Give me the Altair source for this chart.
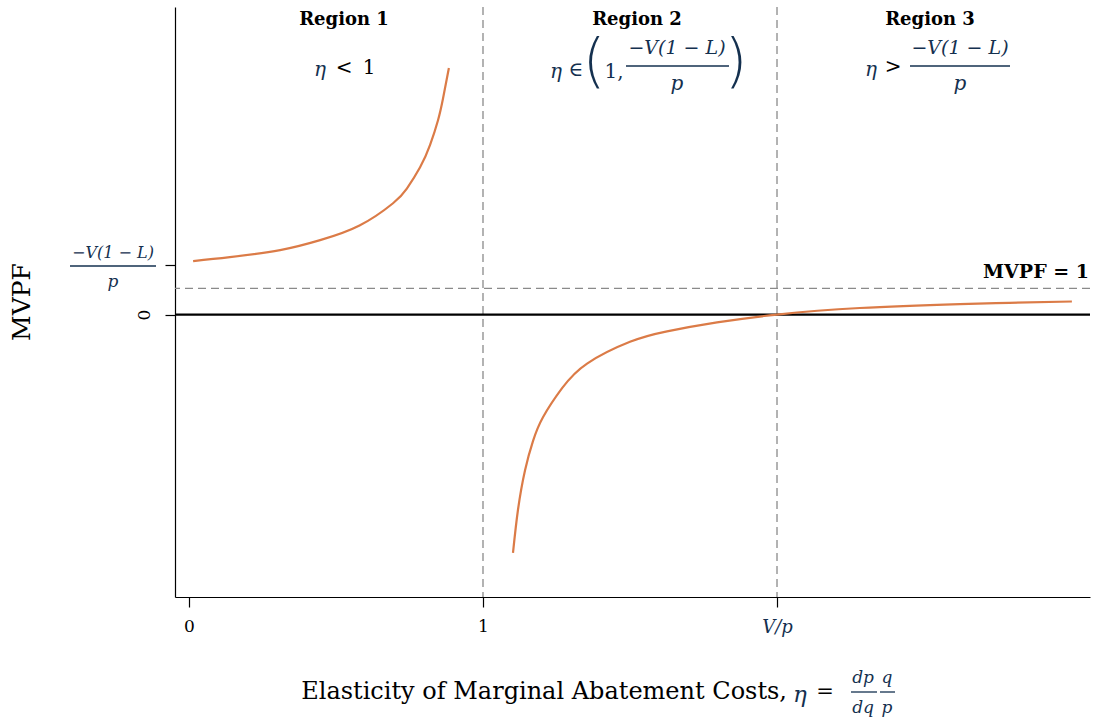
import altair as alt
import pandas as pd

# MVPF as a function of the elasticity of marginal abatement costs (eta)
# Branch below the pole at eta = 1
eta_low = [0.014, 0.139, 0.31, 0.446, 0.58, 0.694, 0.741, 0.786, 0.820, 0.847, 0.864, 0.884]
mvpf_low = [2.04, 2.19, 2.46, 2.84, 3.40, 4.25, 4.81, 5.62, 6.48, 7.42, 8.25, 9.41]
# Branch above the pole (regions 2 and 3)
eta_high = [1.102, 1.119, 1.143, 1.170, 1.204, 1.269, 1.354, 1.500, 1.626, 1.796,
            2.0, 2.282, 2.622, 2.79, 3.003]
mvpf_high = [-9.10, -7.45, -5.94, -4.83, -3.92, -2.81, -1.87, -1.04, -0.64, -0.30,
             0.0, 0.25, 0.40, 0.45, 0.50]

x_ticks = [0, 1, 2]            # 0, 1, V/p
y_ticks = [0, 1.89]            # 0, -V(1-L)/p
region_bounds = [1, 2]         # eta = 1 and eta = V/p
mvpf_one = 1

x_domain = [-0.0476, 3.0646]
y_domain = [-10.78, 11.74]

SERIF = "DejaVu Serif"
MATH = "DejaVu Serif"
NAVY = "#14304f"
ORANGE = "#db7b47"
GREY = "#8a8a8a"

W, H = 915, 590
OX, OY = 175, 7   # plot origin inside the page

curve = pd.DataFrame({
    "eta": eta_low + eta_high,
    "mvpf": mvpf_low + mvpf_high,
    "branch": ["low"] * len(eta_low) + ["high"] * len(eta_high),
})

xs = alt.Scale(domain=x_domain, nice=False, zero=False)
ys = alt.Scale(domain=y_domain, nice=False, zero=False)

x_axis = alt.Axis(
    values=x_ticks, title=None, grid=False,
    labelExpr="datum.value == 2 ? 'V/p' : format(datum.value, 'd')",
    labelFont=SERIF,
    labelFontStyle={"condition": {"test": "datum.value == 2", "value": "italic"}, "value": "normal"},
    labelColor={"condition": {"test": "datum.value == 2", "value": NAVY}, "value": "black"},
    labelFontSize={"condition": {"test": "datum.value == 2", "value": 18}, "value": 17},
    labelPadding=11, tickSize=10, tickColor="black",
    domainColor="black", domainWidth=1.2, tickWidth=1.2,
)
y_axis = alt.Axis(
    values=y_ticks, title=None, grid=False,
    labelExpr="datum.value == 0 ? '0' : ''",
    labelFont=SERIF, labelFontSize=17, labelAngle=270, labelPadding=12,
    labelColor="black", tickSize=10, tickColor="black",
    domainColor="black", domainWidth=1.2, tickWidth=1.2,
)

lines = alt.Chart(curve).mark_line(color=ORANGE, strokeWidth=2.2, interpolate="natural").encode(
    x=alt.X("eta:Q", scale=xs, axis=x_axis),
    y=alt.Y("mvpf:Q", scale=ys, axis=y_axis),
    detail="branch:N",
)

vlines = alt.Chart(pd.DataFrame({"eta": region_bounds})).mark_rule(
    color=GREY, strokeDash=[8, 5], strokeWidth=1.3
).encode(x=alt.X("eta:Q", scale=xs))

hline = alt.Chart(pd.DataFrame({"mvpf": [mvpf_one]})).mark_rule(
    color=GREY, strokeDash=[8, 5], strokeWidth=1.3
).encode(y=alt.Y("mvpf:Q", scale=ys))

zero = alt.Chart(pd.DataFrame({"mvpf": [0]})).mark_rule(
    color="black", strokeWidth=2.4
).encode(y=alt.Y("mvpf:Q", scale=ys))


def txt(text, x, y, size=18, color="black", font=SERIF, style="normal",
        weight="normal", align="center", angle=0):
    """Text placed at page position (x, y)."""
    return alt.Chart(alt.Data(values=[{"t": text}])).mark_text(
        font=font, fontSize=size, color=color, fontStyle=style,
        fontWeight=weight, align=align, baseline="middle", angle=angle,
    ).encode(x=alt.value(x - OX), y=alt.value(y - OY), text="t:N")


def frac_bar(x1, x2, y, color=NAVY):
    return alt.Chart(alt.Data(values=[{"t": 0}])).mark_rule(
        color=color, strokeWidth=1.3
    ).encode(x=alt.value(x1 - OX), x2=alt.value(x2 - OX), y=alt.value(y - OY))


PAREN = "DejaVu Sans"

notes = [
    # region headings
    txt("Region 1", 344, 20, size=18, weight="bold"),
    txt("Region 2", 637, 20, size=18, weight="bold"),
    txt("Region 3", 930, 20, size=18, weight="bold"),
    # region 1: eta < 1
    txt("η", 320, 70, size=20, color=NAVY, font=MATH, style="italic"),
    txt("<", 344, 68, size=20, font=MATH),
    txt("1", 369, 68, size=20, font=MATH),
    # region 2: eta in (1, -V(1-L)/p)
    txt("η", 556, 72, size=20, color=NAVY, font=MATH, style="italic"),
    txt("∈", 576, 70, size=20, color=NAVY, font=MATH),
    txt("(", 594, 64, size=58, color=NAVY, font=PAREN, weight=200),
    txt("1,", 614, 72, size=20, color=NAVY, font=MATH, align="center"),
    txt("−V(1 − L)", 677, 48, size=19, color=NAVY, font=MATH, style="italic"),
    frac_bar(626, 729, 66),
    txt("p", 677, 84, size=20, color=NAVY, font=MATH, style="italic"),
    txt(")", 736, 64, size=58, color=NAVY, font=PAREN, weight=200),
    # region 3: eta > -V(1-L)/p
    txt("η", 871, 70, size=20, color=NAVY, font=MATH, style="italic"),
    txt(">", 893, 67, size=20, font=MATH),
    txt("−V(1 − L)", 960, 48, size=19, color=NAVY, font=MATH, style="italic"),
    frac_bar(910, 1010, 66),
    txt("p", 960, 84, size=20, color=NAVY, font=MATH, style="italic"),
    # MVPF = 1 reference
    txt("MVPF = 1", 1089, 272, size=19, weight="bold", align="right"),
    # y tick label -V(1-L)/p
    txt("−V(1 − L)", 113, 253, size=16, color=NAVY, font=MATH, style="italic"),
    frac_bar(70, 156, 266),
    txt("p", 113, 282, size=17, color=NAVY, font=MATH, style="italic"),
    # axis titles
    txt("MVPF", 22, 302, size=25, angle=270),
    txt("Elasticity of Marginal Abatement Costs,", 787, 692, size=24, align="right"),
    txt("η", 800, 695, size=23, color=NAVY, font=MATH, style="italic"),
    txt("=", 825, 692, size=21, font=MATH),
    txt("dp", 863, 678, size=17, color=NAVY, font=MATH, style="italic"),
    frac_bar(851, 877, 692),
    txt("dq", 863, 708, size=17, color=NAVY, font=MATH, style="italic"),
    txt("q", 887, 678, size=17, color=NAVY, font=MATH, style="italic"),
    frac_bar(880, 895, 692),
    txt("p", 887, 708, size=17, color=NAVY, font=MATH, style="italic"),
]

chart = alt.layer(vlines, hline, zero, lines, *notes).properties(
    width=W, height=H,
    autosize=alt.AutoSizeParams(type="none"),
    padding={"left": OX, "top": OY, "right": 1106 - OX - W, "bottom": 721 - OY - H},
    background="white",
).configure_view(stroke=None)

chart.save("out.html", embed_options={"renderer": "svg", "actions": False})
